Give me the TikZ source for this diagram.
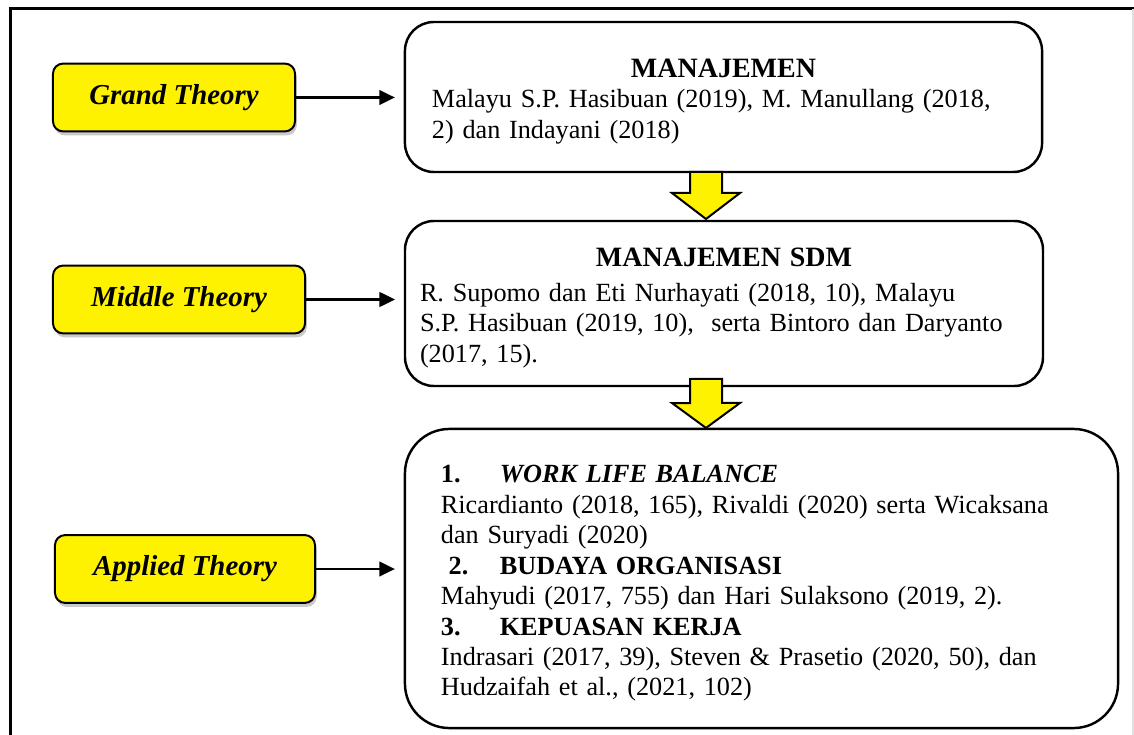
\documentclass[tikz,border=0pt]{standalone}
\usepackage{fontspec}
\setmainfont{Liberation Serif}
\usetikzlibrary{arrows.meta, calc, shadows}

\newcommand{\boxhead}[1]{\textbf{\fontsize{12.6}{13.7}\selectfont #1}}

\tikzset{
  theorylabel/.style={draw=black, line width=0.9pt, fill=yellow, rounded corners=4.5pt,
    font=\fontsize{13}{15}\selectfont\bfseries\itshape, minimum height=30.5pt, outer sep=0pt,
    drop shadow={shadow xshift=0.8pt, shadow yshift=-1.8pt, fill=black!35, opacity=0.6}},
  contentbox/.style={draw=black, line width=1.1pt, rounded corners=13pt, align=left,
    font=\fontsize{11.8}{13.7}\selectfont, outer sep=0pt},
  pointer/.style={-{Triangle[length=7pt, width=6.5pt]}, line width=1.3pt, shorten >=4.5pt},
  blockdown/.style={draw=black, line width=0.9pt, fill=yellow, line join=miter},
}

\begin{document}
\begin{tikzpicture}[x=0.45pt, y=-0.45pt]
    \useasboundingbox (0,0) rectangle (1134,735);

    % Frame
    \draw[line width=1.35pt] (10,735) -- (10,9) -- (1134,9);
    \draw[gray!25, line width=0.5pt] (1133,9) -- (1133,735);

    % Content boxes
    \node[contentbox, minimum width=286.7pt, minimum height=67.5pt, text width=262.4pt]
        (mgmt) at (723.5,97) {\rule{0pt}{12.3pt}\makebox[\hsize][c]{\boxhead{MANAJEMEN}}\\
        Malayu S.P. Hasibuan (2019), M. Manullang (2018,\\
        2) dan Indayani (2018)};
    \node[contentbox, minimum width=287.1pt, minimum height=74.25pt, text width=273.6pt]
        (sdm) at (724,303.5) {\rule{0pt}{12.3pt}\makebox[\hsize][c]{\boxhead{MANAJEMEN SDM}}\\[2pt]
        R. Supomo dan Eti Nurhayati (2018, 10), Malayu\\
        S.P. Hasibuan (2019, 10), \ serta Bintoro dan Daryanto\\
        (2017, 15).};
    \node[contentbox, rounded corners=20pt, minimum width=320.9pt, minimum height=134.6pt, text width=288.5pt]
        (apl) at (761.5,578.5) {\rule{0pt}{12.3pt}\makebox[26.5pt][l]{\textbf{1.}}\textbf{\textit{WORK LIFE BALANCE}}\\
        Ricardianto (2018, 165), Rivaldi (2020) serta Wicaksana\\
        dan Suryadi (2020)\\
        \hspace*{3.5pt}\makebox[23pt][l]{\textbf{2.}}\textbf{BUDAYA ORGANISASI}\\
        Mahyudi (2017, 755) dan Hari Sulaksono (2019, 2).\\
        \makebox[26.5pt][l]{\textbf{3.}}\textbf{KEPUASAN KERJA}\\
        Indrasari (2017, 39), Steven \& Prasetio (2020, 50), dan\\
        Hudzaifah et al., (2021, 102)};

    % Theory labels
    \node[theorylabel, minimum width=108.9pt] (grand) at (174,97.5) {Grand Theory};
    \node[theorylabel, minimum width=113.4pt] (middle) at (179,299.5) {Middle Theory};
    \node[theorylabel, minimum width=117pt] (applied) at (185,569) {Applied Theory};

    % Pointers
    \draw[pointer] (grand.east) -- (grand.east -| mgmt.west);
    \draw[pointer] (middle.east) -- (middle.east -| sdm.west);
    \draw[pointer] (applied.east) -- (applied.east -| apl.west);

    % Yellow block arrows
    \draw[blockdown] ($(mgmt.south)+(-33.5,0)$) -- ++(0,21) -- ++(-18,0)
        -- ($(mgmt.south |- sdm.north)+(-17.5,-2)$) -- ++(34,-26) -- ++(-18,0) -- ++(0,-21) -- cycle;
    \draw[blockdown] ($(sdm.south)+(-34,-7)$) -- ++(0,24) -- ++(-18,0)
        -- ($(sdm.south |- apl.north)+(-18,-1)$) -- ++(34,-25) -- ++(-18,0) -- ++(0,-24) -- cycle;
\end{tikzpicture}
\end{document}
